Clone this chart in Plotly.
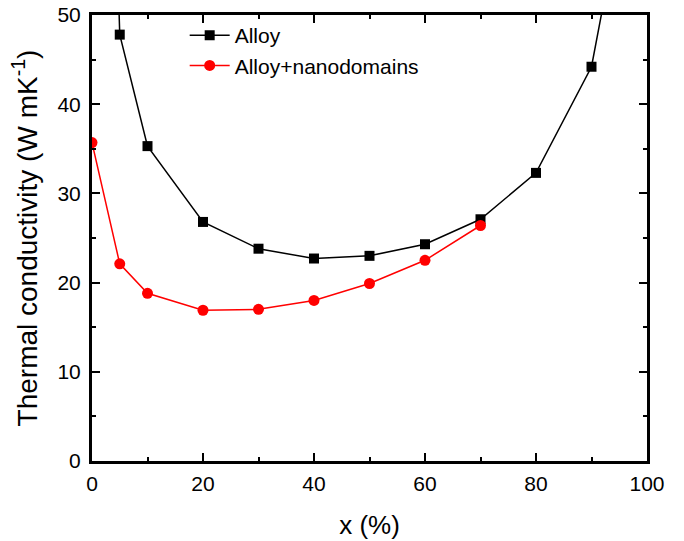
import plotly.graph_objects as go

x_alloy = [0, 5, 10, 20, 30, 40, 50, 60, 70, 80, 90, 100]
k_alloy = [150, 47.8, 35.3, 26.8, 23.8, 22.7, 23.0, 24.3, 27.1, 32.3, 44.2, 77]

x_nano = [0, 5, 10, 20, 30, 40, 50, 60, 70]
k_nano = [35.7, 22.1, 18.8, 16.9, 17.0, 18.0, 19.9, 22.5, 26.4]

x_ticks = [0, 20, 40, 60, 80, 100]
y_ticks = [0, 10, 20, 30, 40, 50]

font = "Liberation Sans, Arial, sans-serif"

fig = go.Figure()
fig.add_trace(go.Scatter(
    x=x_alloy, y=k_alloy, mode="lines+markers", name="Alloy",
    line=dict(color="black", width=1.5),
    marker=dict(symbol="square", size=10, color="black"),
))
fig.add_trace(go.Scatter(
    x=x_nano, y=k_nano, mode="lines+markers", name="Alloy+nanodomains",
    line=dict(color="#ff0000", width=1.5),
    marker=dict(symbol="circle", size=11, color="#ff0000"),
))

axis_common = dict(
    showgrid=False, zeroline=False, showline=True, linecolor="black", linewidth=3,
    mirror="allticks", ticks="inside", ticklen=8, tickwidth=2, tickcolor="black",
    tickfont=dict(family=font, size=21, color="black"), automargin=False,
    ticklabeloverflow="allow",
)

fig.update_xaxes(
    range=[0, 100], tickvals=x_ticks, ticklabelstandoff=2,
    title=dict(text="x (%)", font=dict(family=font, size=26, color="black"), standoff=22),
    minor=dict(dtick=10, ticks="inside", ticklen=4, tickwidth=2, tickcolor="black"),
    **axis_common,
)
fig.update_yaxes(
    range=[0, 50], tickvals=y_ticks, ticklabelstandoff=4,
    title=dict(text="Thermal conductivity (W mK<sup>-1</sup>)",
               font=dict(family=font, size=28, color="black"), standoff=12),
    minor=dict(dtick=5, ticks="inside", ticklen=4, tickwidth=2, tickcolor="black"),
    **axis_common,
)

fig.update_layout(
    width=684, height=541,
    margin=dict(l=92, r=37, t=15, b=80),
    plot_bgcolor="white", paper_bgcolor="white",
    showlegend=True,
    legend=dict(
        x=0.167, y=1.0, xanchor="left", yanchor="top",
        bgcolor="rgba(0,0,0,0)", font=dict(family=font, size=21, color="black"),
        tracegroupgap=0, itemwidth=40,
    ),
)

fig.write_html("out.html", config={"displayModeBar": False},
               post_script="document.body.style.margin='0';")
